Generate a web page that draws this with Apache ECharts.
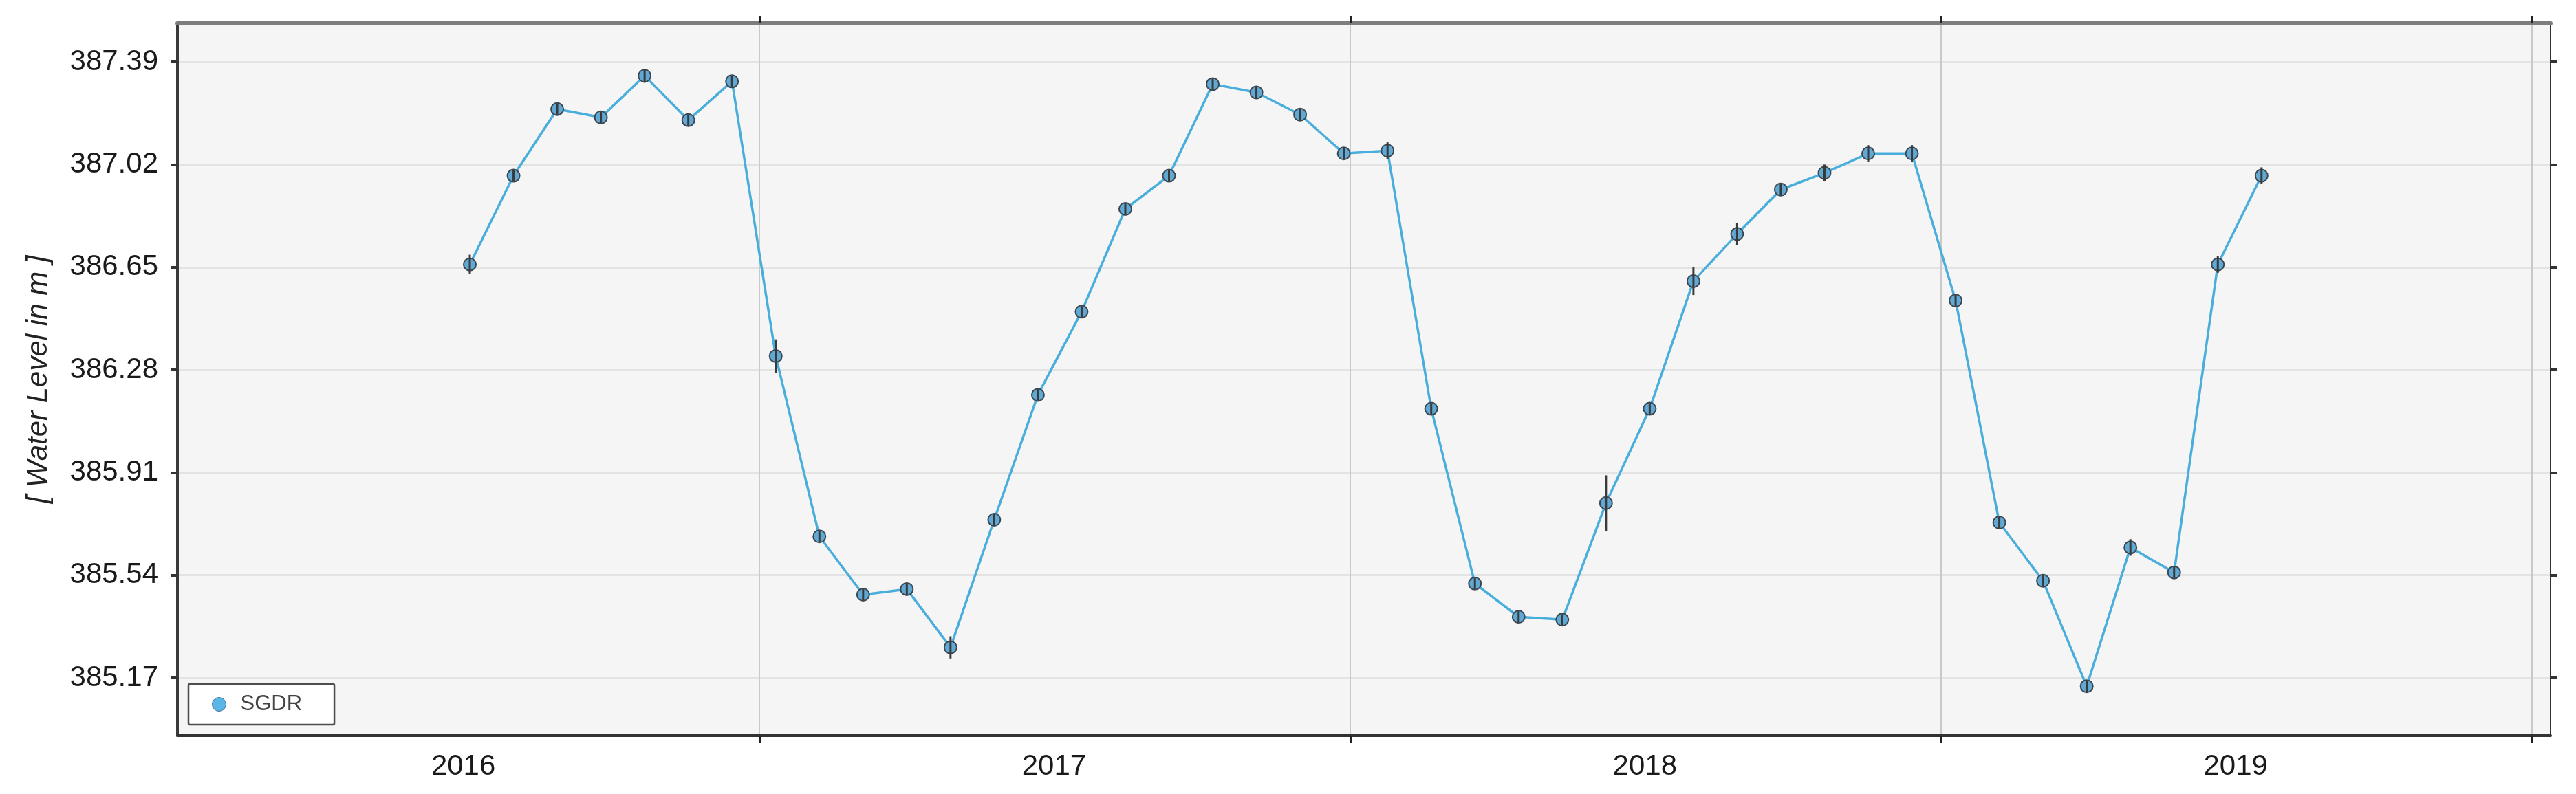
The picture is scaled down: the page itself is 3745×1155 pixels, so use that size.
<!DOCTYPE html>
<html>
<head>
<meta charset="utf-8">
<script src="https://cdn.jsdelivr.net/npm/echarts@6/dist/echarts.min.js"></script>
<style>
  html, body { margin: 0; padding: 0; background: #fff; }
  #main { width: 3745px; height: 1155px; }
</style>
</head>
<body>
<div id="main"></div>
<script>
// SGDR water level samples (27-day repeat)
var dates = [
  "2016-07-06", "2016-08-02", "2016-08-29", "2016-09-25", "2016-10-22", "2016-11-18",
  "2016-12-15", "2017-01-11", "2017-02-07", "2017-03-06", "2017-04-02", "2017-04-29",
  "2017-05-26", "2017-06-22", "2017-07-19", "2017-08-15", "2017-09-11", "2017-10-08",
  "2017-11-04", "2017-12-01", "2017-12-28", "2018-01-24", "2018-02-20", "2018-03-19",
  "2018-04-15", "2018-05-12", "2018-06-08", "2018-07-05", "2018-08-01", "2018-08-28",
  "2018-09-24", "2018-10-21", "2018-11-17", "2018-12-14", "2019-01-10", "2019-02-06",
  "2019-03-05", "2019-04-01", "2019-04-28", "2019-05-25", "2019-06-21", "2019-07-18"
];
var levels = [
  386.66, 386.98, 387.22, 387.19, 387.34, 387.18,
  387.32, 386.33, 385.68, 385.47, 385.49, 385.28,
  385.74, 386.19, 386.49, 386.86, 386.98, 387.31,
  387.28, 387.20, 387.06, 387.07, 386.14, 385.51,
  385.39, 385.38, 385.80, 386.14, 386.60, 386.77,
  386.93, 386.99, 387.06, 387.06, 386.53, 385.73,
  385.52, 385.14, 385.64, 385.55, 386.66, 386.98
];
var errors = [
  0.035, 0.02, 0.02, 0.02, 0.025, 0.02,
  0.02, 0.06, 0.02, 0.02, 0.02, 0.04,
  0.02, 0.02, 0.02, 0.02, 0.02, 0.02,
  0.02, 0.02, 0.02, 0.03, 0.02, 0.02,
  0.02, 0.02, 0.10, 0.02, 0.05, 0.04,
  0.02, 0.03, 0.03, 0.03, 0.02, 0.02,
  0.02, 0.02, 0.03, 0.02, 0.03, 0.03
];
var yTicks = [385.17, 385.54, 385.91, 386.28, 386.65, 387.02, 387.39];
var yearBounds = ["2017-01-01", "2018-01-01", "2019-01-01", "2020-01-01"];
var yearLabels = ["2016-07-02", "2017-07-02", "2018-07-02", "2019-07-02"];

var toTime = function (s) {
  var p = s.split("-");
  return new Date(+p[0], +p[1] - 1, +p[2]).getTime();
};

var chartDom = document.getElementById("main");
var myChart = echarts.init(chartDom);

var xMin = new Date(2016, 0, 7, 9).getTime();
var xMax = new Date(2020, 0, 12, 14).getTime();
var yMin = 384.962;
var yMax = 387.529;
var font = "Liberation Sans";

var lineData = dates.map(function (d, i) {
  return [toTime(d), levels[i]];
});
var errData = dates.map(function (d, i) {
  return [toTime(d), levels[i] - errors[i], levels[i] + errors[i]];
});

var option = {
  animation: false,
  textStyle: { fontFamily: font },
  grid: {
    left: 258,
    right: 37,
    top: 34,
    bottom: 85,
    show: true,
    backgroundColor: "#f5f5f5",
    borderWidth: 0,
    outerBoundsMode: "none",
  },
  legend: {
    data: ["SGDR"],
    left: 274,
    top: 995,
    orient: "vertical",
    backgroundColor: "#ffffff",
    borderColor: "#4d4d4d",
    borderWidth: 2.5,
    borderRadius: 2,
    padding: [14, 47, 14, 34],
    icon: "circle",
    itemWidth: 20,
    itemHeight: 20,
    itemStyle: { color: "#5ab6e6", borderColor: "#3f6f8c", borderWidth: 1 },
    textStyle: {
      fontFamily: font,
      fontSize: 31,
      color: "#444",
      padding: [0, 0, 0, 16],
    },
  },
  xAxis: [
    {
      type: "value",
      min: xMin,
      max: xMax,
      position: "bottom",
      axisLine: { show: true, onZero: false, lineStyle: { color: "#333", width: 4 } },
      axisTick: {
        show: true,
        inside: false,
        length: 11,
        customValues: yearBounds.map(toTime),
        lineStyle: { color: "#222", width: 3 },
      },
      axisLabel: {
        customValues: yearLabels.map(toTime),
        margin: 24,
        fontSize: 42,
        color: "#1a1a1a",
        fontFamily: font,
        formatter: function (v) {
          return String(new Date(v).getFullYear());
        },
      },
      splitLine: {
        show: true,
        lineStyle: { color: "#c9c9c9", width: 2 },
      },
    },
    {
      type: "value",
      min: xMin,
      max: xMax,
      position: "top",
      axisLine: { show: true, onZero: false, lineStyle: { color: "#7d7d7d", width: 6 } },
      axisTick: {
        show: true,
        inside: false,
        length: 11,
        customValues: yearBounds.map(toTime),
        lineStyle: { color: "#222", width: 3 },
      },
      axisLabel: { show: false },
      splitLine: { show: false },
    },
  ],
  yAxis: [
    {
      type: "value",
      min: yMin,
      max: yMax,
      position: "left",
      name: "[ Water Level in m ]",
      nameLocation: "middle",
      nameGap: 181,
      nameTextStyle: {
        fontFamily: font,
        fontSize: 42,
        fontStyle: "italic",
        color: "#222",
      },
      axisLine: { show: true, onZero: false, lineStyle: { color: "#3a3a3a", width: 4 } },
      axisTick: {
        show: true,
        inside: false,
        length: 9,
        customValues: yTicks,
        lineStyle: { color: "#333", width: 4 },
      },
      axisLabel: {
        customValues: yTicks,
        margin: 28,
        fontSize: 42,
        color: "#1a1a1a",
        fontFamily: font,
        formatter: function (v) {
          return v.toFixed(2);
        },
      },
      splitLine: {
        show: true,
        lineStyle: { color: "#e3e3e3", width: 3 },
      },
    },
    {
      type: "value",
      min: yMin,
      max: yMax,
      position: "right",
      axisLine: { show: true, onZero: false, lineStyle: { color: "#333", width: 2 } },
      axisTick: {
        show: true,
        inside: false,
        length: 10,
        customValues: yTicks,
        lineStyle: { color: "#333", width: 4 },
      },
      axisLabel: { show: false },
      splitLine: { show: false },
    },
  ],
  series: [
    {
      name: "SGDR",
      type: "line",
      data: lineData,
      symbol: "circle",
      symbolSize: 18,
      z: 2,
      lineStyle: { color: "#4aaedc", width: 3.5 },
      itemStyle: {
        color: "#5fa9d4",
        borderColor: "#3b4650",
        borderWidth: 2,
      },
    },
    {
      name: "err",
      type: "custom",
      data: errData,
      z: 3,
      encode: { x: 0, y: [1, 2] },
      renderItem: function (params, api) {
        var x = api.value(0);
        var lo = api.coord([x, api.value(1)]);
        var hi = api.coord([x, api.value(2)]);
        return {
          type: "line",
          shape: { x1: lo[0], y1: lo[1], x2: hi[0], y2: hi[1] },
          style: { stroke: "#3a3a3a", lineWidth: 3 },
        };
      },
    },
  ],
};

option && myChart.setOption(option);
</script>
</body>
</html>
